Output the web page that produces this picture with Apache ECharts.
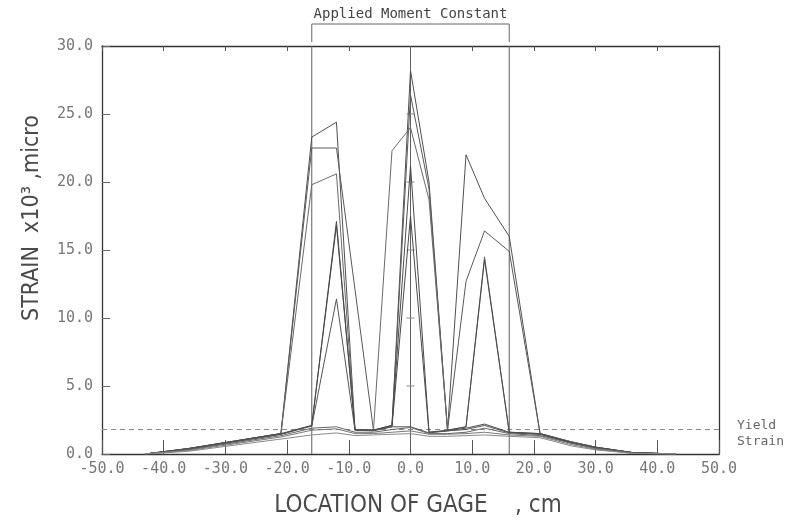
<!DOCTYPE html>
<html>
<head>
<meta charset="utf-8">
<script src="https://cdn.jsdelivr.net/npm/echarts@6/dist/echarts.min.js"></script>
<style>
  html, body { margin: 0; padding: 0; background: #fff; }
  #chart { width: 802px; height: 520px; }
</style>
</head>
<body>
<div id="chart"></div>
<script>
// Gage locations along the member (cm)
const gageLocation = [-43, -36, -21, -16, -12, -9, -6, -3, 0, 3, 6, 9, 12, 16, 21, 26, 30, 36, 43];

// Measured strain (x10^3 micro) for each load stage, one value per gage
const stageA = [0, 0.40, 1.50, 23.3, 24.4, 1.80, 1.75, 2.10, 28.2, 20.0, 1.75, 22.0, 18.8, 16.0, 1.50, 0.90, 0.50, 0.10, 0];
const stageB = [0, 0.40, 1.50, 22.5, 22.5, 12.1, 1.75, 2.10, 26.4, 19.5, 1.75, 12.7, 16.4, 14.9, 1.50, 0.90, 0.50, 0.10, 0];
const stageC = [0, 0.40, 1.50, 19.8, 20.6, 1.80, 1.75, 22.3, 24.0, 18.7, 1.75, 2.00, 14.5, 1.60, 1.50, 0.90, 0.50, 0.10, 0];
const stageD = [0, 0.40, 1.50, 2.10, 17.1, 1.80, 1.75, 2.10, 21.2, 1.60, 1.75, 2.00, 14.3, 1.60, 1.50, 0.85, 0.50, 0.10, 0];
const stageE = [0, 0.35, 1.45, 2.10, 16.8, 1.75, 1.75, 2.00, 17.5, 1.60, 1.70, 1.90, 2.20, 1.60, 1.45, 0.85, 0.45, 0.10, 0];
const stageF = [0, 0.35, 1.45, 2.05, 11.4, 1.75, 1.70, 2.00, 2.00, 1.55, 1.70, 1.80, 2.10, 1.55, 1.45, 0.80, 0.45, 0.10, 0];
const stageG = [0, 0.30, 1.35, 1.90, 2.00, 1.60, 1.60, 1.80, 1.95, 1.50, 1.50, 1.60, 1.90, 1.50, 1.35, 0.80, 0.40, 0.05, 0];
const stageH = [0, 0.25, 1.25, 1.75, 1.85, 1.50, 1.50, 1.60, 1.70, 1.45, 1.45, 1.50, 1.60, 1.40, 1.30, 0.70, 0.35, 0.05, 0];
const stageI = [0, 0.20, 1.10, 1.40, 1.55, 1.35, 1.40, 1.45, 1.50, 1.30, 1.30, 1.35, 1.40, 1.30, 1.20, 0.60, 0.30, 0.05, 0];

const stages = [stageA, stageB, stageC, stageD, stageE, stageF, stageG, stageH, stageI];
const stageColors = ['#505050', '#5a5a5a', '#6a6a6a', '#4a4a4a', '#4a4a4a', '#555555', '#666666', '#7a7a7a', '#8a8a8a'];

// Axis ranges and reference marks
const xRange = [-50, 50];
const yRange = [0, 30];
const yieldStrain = 1.8;
const momentZone = [-16, 16];
const centerLine = 0;
const centerTicks = [5, 10, 15, 20, 25];

const mono = "'DejaVu Sans Mono', monospace";
const narrow = "'DejaVu Sans Condensed', 'Liberation Sans Narrow', 'DejaVu Sans', sans-serif";

const chart = echarts.init(document.getElementById('chart'), null, { renderer: 'canvas' });

const strainLines = stages.map((vals, i) => ({
  type: 'line',
  name: 'stage ' + (i + 1),
  data: gageLocation.map((x, k) => [x, vals[k]]),
  symbol: 'none',
  smooth: false,
  z: 3,
  lineStyle: { color: stageColors[i], width: 1 },
  silent: true
}));

// Moment zone lines, center gage line, yield line, bracket and notes
const annotations = {
  type: 'custom',
  coordinateSystem: 'cartesian2d',
  data: [[0, 0]],
  clip: false,
  silent: true,
  z: 2,
  renderItem: function (params, api) {
    const children = [];
    const yTop = api.coord([0, yRange[1]])[1];
    const yBot = api.coord([0, yRange[0]])[1];
    [momentZone[0], centerLine, momentZone[1]].forEach(function (x) {
      const px = api.coord([x, 0])[0];
      children.push({ type: 'line', shape: { x1: px, y1: yTop, x2: px, y2: yBot },
        style: { stroke: '#606060', lineWidth: 1 } });
    });
    centerTicks.forEach(function (t) {
      const p = api.coord([centerLine, t]);
      children.push({ type: 'line', shape: { x1: p[0] - 4, y1: p[1], x2: p[0] + 4, y2: p[1] },
        style: { stroke: '#888', lineWidth: 1 } });
    });
    const l = api.coord([xRange[0], yieldStrain]);
    const r = api.coord([xRange[1], yieldStrain]);
    children.push({ type: 'line', shape: { x1: l[0], y1: l[1], x2: r[0], y2: r[1] },
      style: { stroke: '#888', lineWidth: 1, lineDash: [5, 4] } });
    children.push({ type: 'text', x: r[0] + 18, y: r[1] + 4,
      style: { text: 'Yield\nStrain', fontFamily: mono, fontSize: 13, lineHeight: 16,
        fill: '#666', align: 'left', verticalAlign: 'middle' } });
    const a = api.coord([momentZone[0], yRange[1]]);
    const b = api.coord([momentZone[1], yRange[1]]);
    children.push({ type: 'polyline',
      shape: { points: [[a[0], a[1] - 4], [a[0], a[1] - 22], [b[0], b[1] - 22], [b[0], b[1] - 4]] },
      style: { stroke: '#666', fill: null, lineWidth: 1 } });
    children.push({ type: 'text', x: (a[0] + b[0]) / 2, y: a[1] - 32,
      style: { text: 'Applied Moment Constant', fontFamily: mono, fontSize: 14,
        fill: '#444', align: 'center', verticalAlign: 'middle' } });
    return { type: 'group', children: children };
  }
};

const axisLineStyle = { color: '#333', width: 1.3 };
const fmt = function (v) { return v.toFixed(1); };

chart.setOption({
  animation: false,
  backgroundColor: '#fff',
  grid: { left: 102, right: 83, top: 46, bottom: 66 },
  xAxis: [
    {
      type: 'value', min: xRange[0], max: xRange[1], interval: 10, position: 'bottom',
      axisLine: { onZero: false, lineStyle: axisLineStyle },
      axisTick: { inside: true, length: 14, lineStyle: { color: '#555', width: 1 } },
      axisLabel: { formatter: fmt, fontFamily: mono, fontSize: 15, color: '#777', margin: 8 },
      splitLine: { show: false }
    },
    {
      type: 'value', min: xRange[0], max: xRange[1], interval: 10, position: 'top',
      axisLine: { onZero: false, lineStyle: axisLineStyle },
      axisTick: { inside: true, length: 5, lineStyle: { color: '#555', width: 1 } },
      axisLabel: { show: false },
      splitLine: { show: false }
    }
  ],
  yAxis: [
    {
      type: 'value', min: yRange[0], max: yRange[1], interval: 5, position: 'left',
      axisLine: { onZero: false, lineStyle: axisLineStyle },
      axisTick: { inside: true, length: 8, lineStyle: { color: '#666', width: 1 } },
      axisLabel: { formatter: fmt, fontFamily: mono, fontSize: 15, color: '#777', margin: 9 },
      splitLine: { show: false }
    },
    {
      type: 'value', min: yRange[0], max: yRange[1], interval: 5, position: 'right',
      axisLine: { onZero: false, lineStyle: axisLineStyle },
      axisTick: { show: false },
      axisLabel: { show: false },
      splitLine: { show: false }
    }
  ],
  graphic: [
    {
      type: 'text', x: 418, y: 506,
      style: { text: 'LOCATION OF GAGE    , cm', fontFamily: narrow, fontSize: 24,
        fill: '#4a4a4a', align: 'center', verticalAlign: 'middle' }
    },
    {
      type: 'text', x: 32, y: 218, rotation: Math.PI / 2,
      style: { text: 'STRAIN  x10\u00b3 ,micro', fontFamily: narrow, fontSize: 23,
        fill: '#4a4a4a', align: 'center', verticalAlign: 'middle' }
    }
  ],
  series: strainLines.concat([annotations])
});
</script>
</body>
</html>
